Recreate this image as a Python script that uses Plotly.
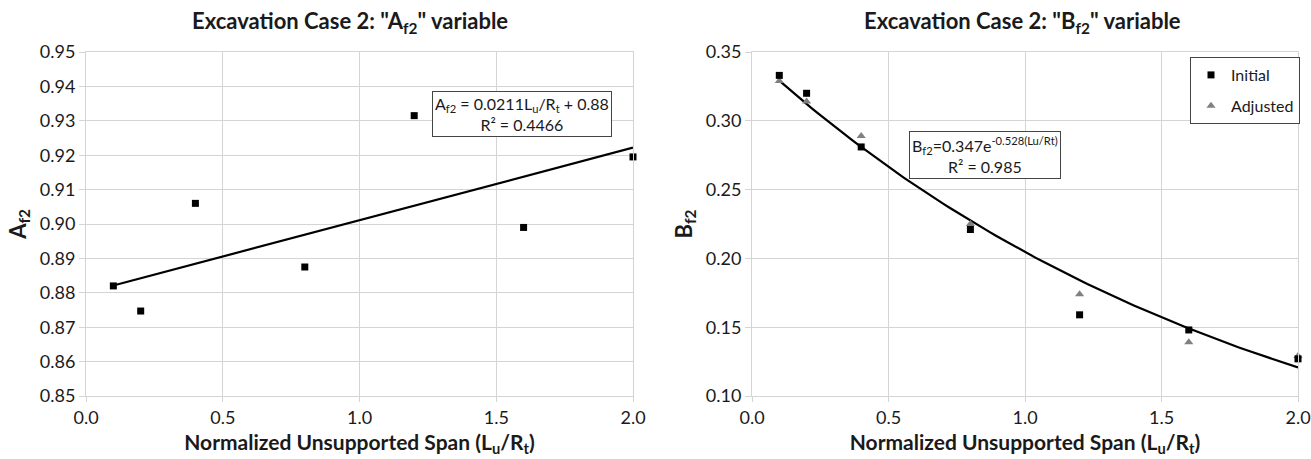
import numpy as np
import plotly.graph_objects as go

# ---- data ----
span = [0.1, 0.2, 0.4, 0.8, 1.2, 1.6, 2.0]
af2 = [0.882, 0.8747, 0.906, 0.8875, 0.9315, 0.899, 0.9195]
bf2_initial = [0.333, 0.320, 0.281, 0.221, 0.159, 0.148, 0.127]
bf2_adjusted = [0.329, 0.314, 0.289, 0.225, 0.174, 0.139, 0.129]
# trendline coefficients as printed on the chart
lin_slope, lin_icpt = 0.0211, 0.88
exp_a, exp_b = 0.347, -0.528
x_ticks = [0.0, 0.5, 1.0, 1.5, 2.0]

W, H = 1311, 459
def dx(p): return p / W
def dy(p): return 1 - p / H

FONT = "Lato, Carlito, Calibri, sans-serif"
TXT = "#1a1a1a"
fig = go.Figure()

xt = np.linspace(min(span), max(span), 80)
fig.add_trace(go.Scatter(x=[min(span), max(span)],
                         y=[lin_slope * min(span) + lin_icpt, lin_slope * max(span) + lin_icpt],
                         mode="lines", line=dict(color="black", width=2.2),
                         showlegend=False, xaxis="x", yaxis="y"))
fig.add_trace(go.Scatter(x=span, y=af2, mode="markers", cliponaxis=False,
                         marker=dict(symbol="square", size=7, color="black"),
                         showlegend=False, xaxis="x", yaxis="y"))

fig.add_trace(go.Scatter(x=xt, y=exp_a * np.exp(exp_b * xt), mode="lines",
                         line=dict(color="black", width=2.2),
                         showlegend=False, xaxis="x2", yaxis="y2"))
fig.add_trace(go.Scatter(x=span, y=bf2_adjusted, mode="markers", name="Adjusted",
                         cliponaxis=False, legendgroup="b", legendrank=2,
                         marker=dict(symbol="triangle-up", size=8, color="#808080"),
                         xaxis="x2", yaxis="y2"))
fig.add_trace(go.Scatter(x=span, y=bf2_initial, mode="markers", name="Initial",
                         cliponaxis=False, legendgroup="a", legendrank=1,
                         marker=dict(symbol="square", size=7, color="black"),
                         xaxis="x2", yaxis="y2"))

grid = "#d4d4d4"
common_x = dict(range=[0, 2], tickvals=x_ticks, ticktext=[f"{v:.1f}" for v in x_ticks],
                showgrid=True, gridcolor=grid, gridwidth=1, zeroline=False,
                showline=True, linecolor=grid, mirror=True,
                ticks="outside", ticklen=5, tickcolor=grid, automargin=False,
                tickfont=dict(family=FONT, size=18, color=TXT),
                title=dict(text="<b>Normalized Unsupported Span (L<sub>u</sub>/R<sub>t</sub>)</b>",
                           font=dict(family=FONT, size=21, color=TXT), standoff=8))
common_y = dict(showgrid=True, gridcolor=grid, gridwidth=1, zeroline=False,
                showline=True, linecolor=grid, mirror=True, ticks="outside",
                ticklen=6, tickcolor=grid, automargin=False,
                tickfont=dict(family=FONT, size=18, color=TXT))

ydom = [dy(396), dy(52)]
fig.update_layout(
    width=W, height=H, margin=dict(l=0, r=0, t=0, b=0),
    paper_bgcolor="white", plot_bgcolor="white",
    xaxis=dict(domain=[dx(86), dx(633)], anchor="y", **common_x),
    yaxis=dict(domain=ydom, anchor="x", range=[0.85, 0.95], dtick=0.01, tickformat=".2f",
               title=dict(text="<b>A<sub>f2</sub></b>", font=dict(family=FONT, size=22, color=TXT), standoff=7),
               **common_y),
    xaxis2=dict(domain=[dx(752), dx(1298)], anchor="y2", **common_x),
    yaxis2=dict(domain=ydom, anchor="x2", range=[0.10, 0.35], dtick=0.05, tickformat=".2f",
                title=dict(text="<b>B<sub>f2</sub></b>", font=dict(family=FONT, size=22, color=TXT), standoff=7),
                **common_y),
    legend=dict(x=dx(1190), y=dy(57), xanchor="left", yanchor="top",
                bordercolor="#444", borderwidth=1, bgcolor="white",
                font=dict(family=FONT, size=16, color=TXT),
                itemwidth=30, tracegroupgap=7),
    showlegend=True,
    annotations=[
        dict(text="<b>Excavation Case 2: \"A<sub>f2</sub>\" variable</b>", x=dx(350), y=dy(22),
             xref="paper", yref="paper", showarrow=False, xanchor="center", yanchor="middle",
             font=dict(family=FONT, size=22, color=TXT)),
        dict(text="<b>Excavation Case 2: \"B<sub>f2</sub>\" variable</b>", x=dx(1022), y=dy(22),
             xref="paper", yref="paper", showarrow=False, xanchor="center", yanchor="middle",
             font=dict(family=FONT, size=22, color=TXT)),
        dict(text="A<sub>f2</sub> = 0.0211L<sub>u</sub>/R<sub>t</sub> + 0.88<br>R² = 0.4466",
             x=dx(522), y=dy(114.5), xref="paper", yref="paper", showarrow=False,
             xanchor="center", yanchor="middle", align="center",
             bordercolor="#444", borderwidth=1, borderpad=2, bgcolor="white",
             font=dict(family=FONT, size=16, color=TXT)),
        dict(text="B<sub>f2</sub>=0.347e<sup>-0.528(Lu/Rt)</sup><br>R² = 0.985",
             x=dx(985), y=dy(154.5), xref="paper", yref="paper", showarrow=False,
             xanchor="center", yanchor="middle", align="center",
             bordercolor="#444", borderwidth=1, borderpad=2, bgcolor="white",
             font=dict(family=FONT, size=16, color=TXT)),
    ],
)

fig.write_html("out.html")
